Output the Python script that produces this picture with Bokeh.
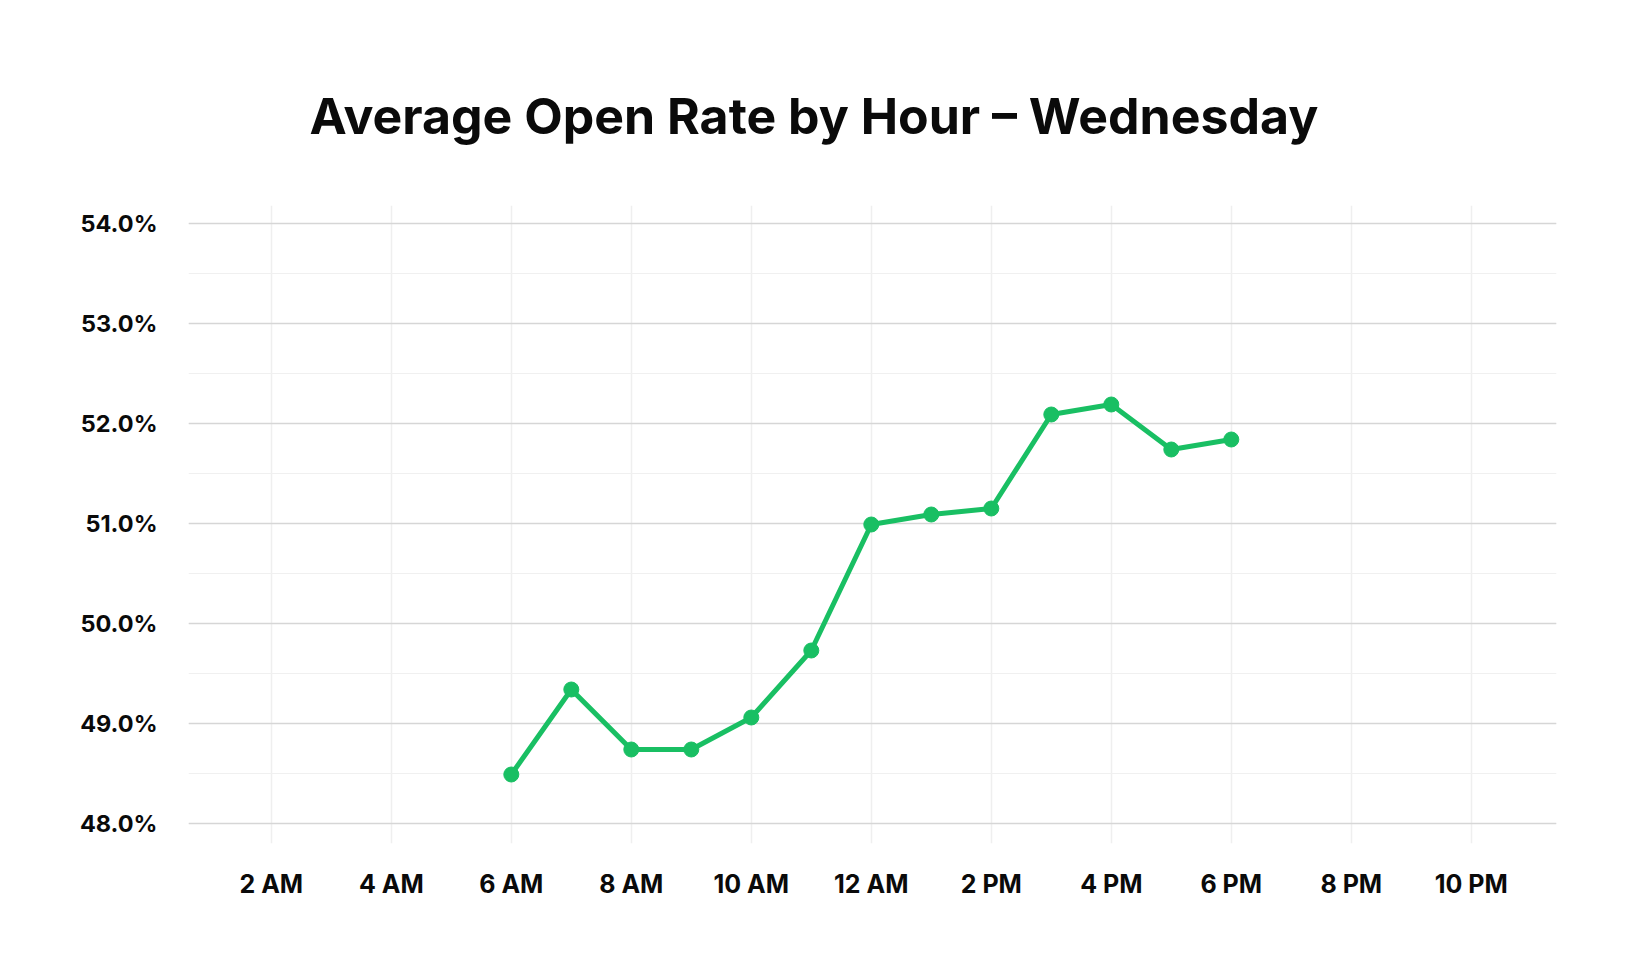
from bokeh.plotting import figure
from bokeh.models import FixedTicker, SingleIntervalTicker, PrintfTickFormatter, Range1d, ColumnDataSource
from bokeh.embed import file_html
from bokeh.resources import INLINE

hours = [6, 7, 8, 9, 10, 11, 12, 13, 14, 15, 16, 17, 18]
open_rate = [48.49, 49.34, 48.74, 48.74, 49.06, 49.73, 50.99, 51.09, 51.15, 52.09, 52.19, 51.74, 51.84]
x_tick_values = [2, 4, 6, 8, 10, 12, 14, 16, 18, 20, 22]
x_tick_labels = ["2 AM", "4 AM", "6 AM", "8 AM", "10 AM", "12 AM", "2 PM", "4 PM", "6 PM", "8 PM", "10 PM"]

GREEN = "#19bf63"
FONT = "Inter"

src = ColumnDataSource(dict(h=hours, r=open_rate))

p = figure(width=1612, height=946, output_backend="svg", toolbar_location=None,
           x_range=Range1d(0.62, 23.42), y_range=Range1d(47.8, 54.18),
           title="Average Open Rate by Hour \u2013 Wednesday")
p.min_border_left = 188
p.min_border_right = 56
p.min_border_top = 205
p.min_border_bottom = 103
p.outline_line_color = None
p.background_fill_color = "white"
p.border_fill_color = "white"

p.title.text_font = FONT
p.title.text_font_size = "50px"
p.title.text_font_style = "bold"
p.title.text_color = "#0a0a0a"
p.title.align = "left"
p.title.offset = 121
p.title.standoff = 120

p.line("h", "r", source=src, line_color=GREEN, line_width=5)
p.scatter("h", "r", source=src, size=15, fill_color=GREEN, line_color=GREEN)

p.xaxis.ticker = FixedTicker(ticks=x_tick_values)
p.xaxis.major_label_overrides = {v: l for v, l in zip(x_tick_values, x_tick_labels)}
p.yaxis.ticker = SingleIntervalTicker(interval=1, num_minor_ticks=2)
p.yaxis.formatter = PrintfTickFormatter(format="%.1f%%")

for ax in (p.xaxis, p.yaxis):
    ax.axis_line_color = None
    ax.major_tick_line_color = None
    ax.minor_tick_line_color = None
    ax.major_label_text_font = FONT
    ax.major_label_text_font_style = "bold"
    ax.major_label_text_color = "#0a0a0a"
p.xaxis.major_label_text_font_size = "25px"
p.yaxis.major_label_text_font_size = "23.5px"
p.xaxis.major_label_standoff = 19
p.yaxis.major_label_standoff = 25

p.xgrid.grid_line_color = "#efefef"
p.xgrid.grid_line_width = 1.5
p.ygrid.grid_line_color = "#d6d6d6"
p.ygrid.grid_line_width = 1.5
p.ygrid.minor_grid_line_color = "#f0f0f0"
p.ygrid.minor_grid_line_width = 1.2

open("out.html", "w").write(file_html(p, INLINE))
